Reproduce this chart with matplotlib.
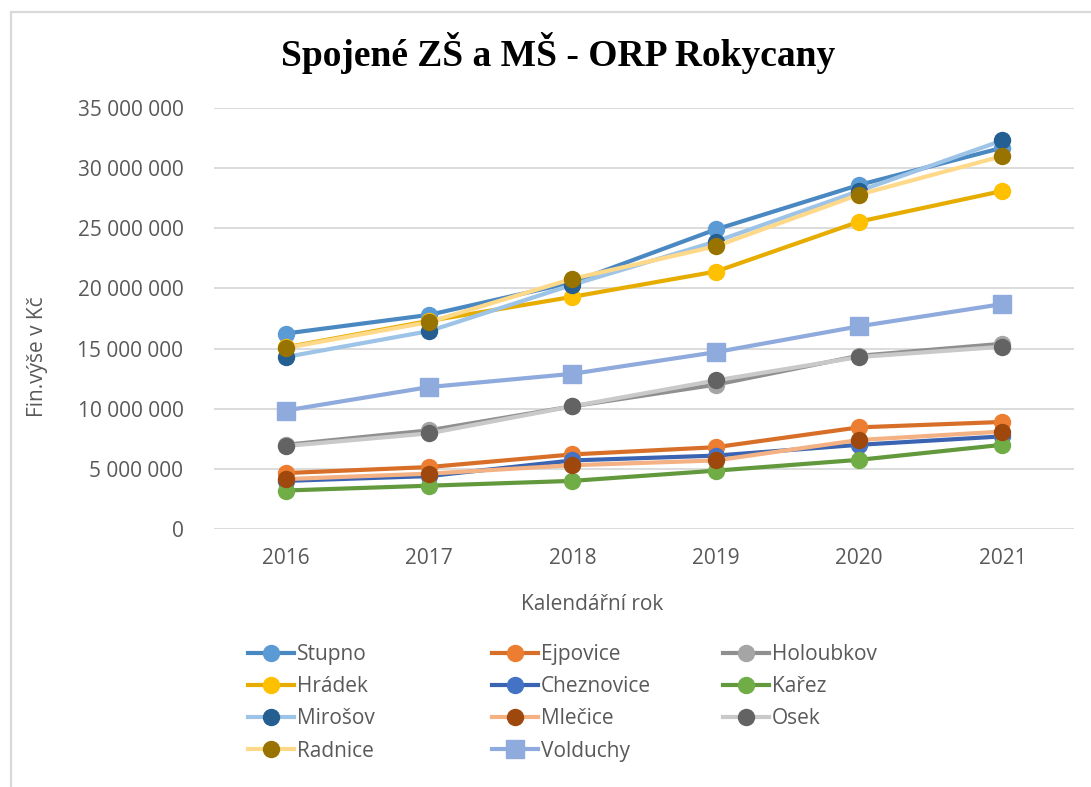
import matplotlib.pyplot as plt
from matplotlib.lines import Line2D
from matplotlib.patches import Rectangle
from matplotlib.ticker import FuncFormatter

# data (Kč)
roky = ['2016', '2017', '2018', '2019', '2020', '2021']

Stupno     = [16250000, 17800000, 20500000, 24900000, 28600000, 31700000]
Ejpovice   = [4650000, 5150000, 6200000, 6800000, 8450000, 8900000]
Holoubkov  = [7000000, 8200000, 10200000, 12000000, 14400000, 15400000]
Hradek     = [15100000, 17300000, 19300000, 21400000, 25550000, 28100000]
Cheznovice = [4000000, 4400000, 5700000, 6100000, 7000000, 7700000]
Karez      = [3200000, 3600000, 4000000, 4850000, 5750000, 7000000]
Mirosov    = [14300000, 16450000, 20300000, 23900000, 28100000, 32300000]
Mlecice    = [4150000, 4600000, 5300000, 5700000, 7400000, 8100000]
Osek       = [6900000, 7950000, 10200000, 12350000, 14300000, 15150000]
Radnice    = [15050000, 17200000, 20800000, 23500000, 27800000, 31000000]
Volduchy   = [9850000, 11800000, 12900000, 14700000, 16850000, 18700000]

nazvy = ['Stupno', 'Ejpovice', 'Holoubkov', 'Hrádek', 'Cheznovice', 'Kařez',
         'Mirošov', 'Mlečice', 'Osek', 'Radnice', 'Volduchy']
hodnoty = [Stupno, Ejpovice, Holoubkov, Hradek, Cheznovice, Karez,
           Mirosov, Mlecice, Osek, Radnice, Volduchy]

# (line colour, marker colour, marker)
styly = [
    ('#4a88c2', '#5b9bd5', 'o'),
    ('#d86f28', '#ed7d31', 'o'),
    ('#8f8f8f', '#a5a5a5', 'o'),
    ('#e6ad00', '#ffc000', 'o'),
    ('#3a64b2', '#4472c4', 'o'),
    ('#62993d', '#70ad47', 'o'),
    ('#9dc3e6', '#255e91', 'o'),
    ('#f4b183', '#9e480e', 'o'),
    ('#c9c9c9', '#636363', 'o'),
    ('#ffd98a', '#997300', 'o'),
    ('#8faadc', '#8faadc', 's'),
]

plt.rcParams['font.family'] = ['Open Sans', 'DejaVu Sans']

W, H = 1091, 787
fig = plt.figure(figsize=(W / 100, H / 100), dpi=100)
fig.patches.append(Rectangle((11 / W, -0.2), 1.2, 1.2 - 12 / H, transform=fig.transFigure,
                             fill=False, edgecolor='#d9d9d9', linewidth=1.6))

ax = fig.add_axes([214 / W, 1 - 529 / H, (1074 - 214) / W, (529 - 108) / H])
x = list(range(len(roky)))

handles = []
for nazev, y, (lc, mc, mk) in zip(nazvy, hodnoty, styly):
    ms = 12.5 if mk == 's' else 11.5
    ax.plot(x, y, color=lc, linewidth=3, marker=mk, markersize=ms,
            markerfacecolor=mc, markeredgecolor=mc, zorder=3)
    handles.append(Line2D([], [], color=lc, linewidth=3, marker=mk, markersize=ms,
                          markerfacecolor=mc, markeredgecolor=mc))

ax.set_xlim(-0.5, len(roky) - 0.5)
ax.set_ylim(0, 35000000)
ax.set_yticks(range(0, 35000001, 5000000))
ax.yaxis.set_major_formatter(FuncFormatter(lambda v, p: '{:,}'.format(int(v)).replace(',', ' ')))
ax.set_xticks(x)
ax.set_xticklabels(roky)
ax.tick_params(length=0, labelsize=15, colors='#595959')
ax.tick_params(axis='y', pad=22)
ax.tick_params(axis='x', pad=14)
ax.grid(axis='y', color='#d9d9d9', linewidth=1.3)
ax.set_axisbelow(True)
for s in ax.spines.values():
    s.set_visible(False)

fig.text(558 / W, 1 - 66 / H, 'Spojené ZŠ a MŠ - ORP Rokycany', ha='center', va='baseline',
         fontsize=27, fontweight='bold', family='Liberation Serif', color='black')
fig.text(592 / W, 1 - 604 / H, 'Kalendářní rok', ha='center', va='center',
         fontsize=15, color='#595959')
fig.text(38 / W, 1 - 357 / H, 'Fin.výše v Kč', ha='center', va='center', rotation=90,
         fontsize=15, color='#595959')

# legend in three columns, row-major like the original
sloupce = [[0, 3, 6, 9], [1, 4, 7, 10], [2, 5, 8]]
xs = [248, 492, 723]
for xi, idx in zip(xs, sloupce):
    leg = fig.legend([handles[i] for i in idx], [nazvy[i] for i in idx],
                     loc='upper left', bbox_to_anchor=(xi / W, 1 - 644 / H),
                     frameon=False, fontsize=15, handlelength=2.2, handletextpad=0.15,
                     labelspacing=0.54, borderpad=0, borderaxespad=0, labelcolor='#595959')

fig.savefig('out.png', dpi=100)
